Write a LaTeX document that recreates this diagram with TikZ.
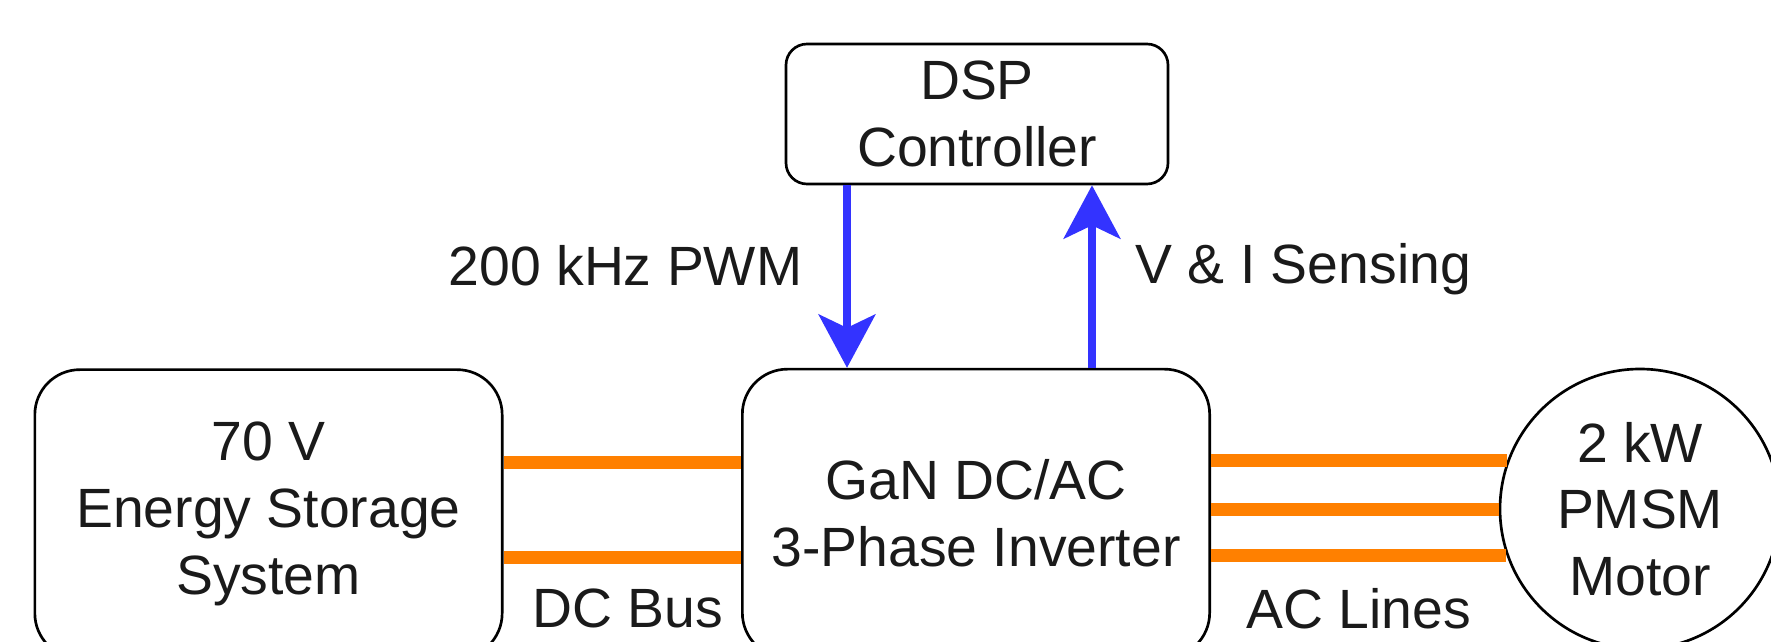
\documentclass[tikz,border=0pt]{standalone}
\usepackage{fontspec}
\setsansfont{Liberation Sans}
\usetikzlibrary{arrows.meta}
\definecolor{cbus}{HTML}{FF8000}
\definecolor{csig}{HTML}{3333FF}
\definecolor{ctxt}{HTML}{1A1A1A}
\tikzset{
  blk/.style={rectangle, rounded corners=13.5pt, draw=black, fill=white,
              line width=0.8pt, align=center, text=ctxt,
              minimum width=140.2pt, minimum height=86.6pt, inner sep=0pt},
  ctl/.style={blk, rounded corners=6.3pt, minimum width=114.6pt, minimum height=42pt},
  mot/.style={circle, draw=black, fill=white, line width=0.8pt, align=center,
              text=ctxt, minimum size=84pt, inner sep=0pt},
  bus/.style={draw=cbus, line width=3.9pt},
  sig/.style={-{Stealth[length=16pt, width=17pt, inset=4pt]}, draw=csig,
              fill=csig, line width=2.2pt},
  lbl/.style={inner sep=0pt, text=ctxt}
}

\begin{document}
\begin{tikzpicture}[x=0.3pt, y=-0.3pt, font=\sffamily\fontsize{16.6}{20}\selectfont]
\useasboundingbox (0,0) rectangle (1771,642);
\clip (0,0) rectangle (1771,642);

% blocks
\node[ctl] (dsp) at (977,114) {DSP\\Controller};
\node[blk] (ess) at (268.5,514) {70 V\\Energy Storage\\System};
\node[blk] (inv) at (976,513.5) {GaN DC/AC\\3-Phase Inverter};
\node[mot] (pmsm) at (1640,509) {2 kW\\PMSM\\Motor};

% DC bus
\draw[bus] (ess.east |- 0,463) -- (inv.west |- 0,463);
\draw[bus] (ess.east |- 0,557) -- (inv.west |- 0,557);
\node[lbl] (dcb) at (628,608) {DC Bus};

% AC lines
\draw[bus] (inv.east |- pmsm.160.8) -- (pmsm.160.8);
\draw[bus] (inv.east |- pmsm.west) -- (pmsm.west);
\draw[bus] (inv.east |- pmsm.199.9) -- (pmsm.199.9);
\node[lbl] (acl) at (1359,609) {AC Lines};

% control signals
\draw[sig] (dsp.south -| 847,0) -- (inv.north -| 847,0);
\draw[sig] (inv.north -| 1092,0) -- (dsp.south -| 1092,0);
\node[lbl, anchor=east] (pwm) at (803,266) {200 kHz PWM};
\node[lbl, anchor=west] (sns) at (1135,269) {V \& I Sensing};

\end{tikzpicture}
\end{document}
